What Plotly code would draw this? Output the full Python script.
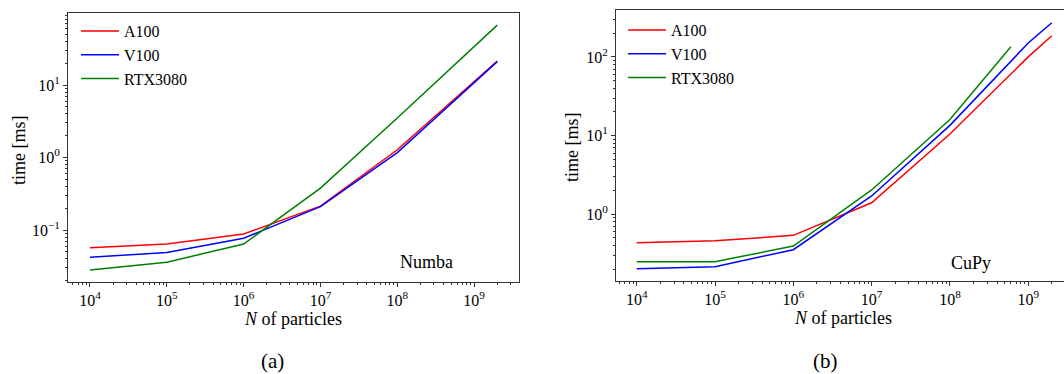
import plotly.graph_objects as go

# ---- data: Numba (a) ----
n_numba = [1e4, 1e5, 1e6, 1e7, 1e8, 2e9]
numba_a100 = [0.057, 0.064, 0.088, 0.213, 1.28, 21.4]
numba_v100 = [0.042, 0.049, 0.077, 0.210, 1.17, 21.0]
numba_rtx = [0.028, 0.036, 0.064, 0.378, 3.5, 67.0]

# ---- data: CuPy (b) ----
n_cupy = [1e4, 1e5, 1e6, 1e7, 1e8, 1e9, 2e9]
cupy_a100 = [0.435, 0.46, 0.54, 1.40, 10.5, 100.0, 186.0]
cupy_v100 = [0.204, 0.216, 0.355, 1.71, 13.5, 150.0, 272.0]
n_cupy_rtx = [1e4, 1e5, 1e6, 1e7, 1e8, 6e8]
cupy_rtx = [0.25, 0.25, 0.395, 2.04, 16.0, 135.0]

x_tickvals = [1e4, 1e5, 1e6, 1e7, 1e8, 1e9]
x_ticktext = ["10<sup>4</sup>", "10<sup>5</sup>", "10<sup>6</sup>",
              "10<sup>7</sup>", "10<sup>8</sup>", "10<sup>9</sup>"]
ya_tickvals = [0.1, 1, 10]
ya_ticktext = ["10<sup>\u22121</sup>", "10<sup>0</sup>", "10<sup>1</sup>"]
yb_tickvals = [1, 10, 100]
yb_ticktext = ["10<sup>0</sup>", "10<sup>1</sup>", "10<sup>2</sup>"]

RED, BLUE, GREEN = "#ff0000", "#0000ff", "#008000"
FONT = "Liberation Serif, Times New Roman, serif"
W, H = 1064, 374

fig = go.Figure()

def add(x, y, name, color, xa, ya, legend, show):
    fig.add_trace(go.Scatter(x=x, y=y, name=name, mode="lines",
                             line=dict(color=color, width=1.5),
                             xaxis=xa, yaxis=ya, legend=legend, showlegend=show))

add(n_numba, numba_a100, "A100", RED, "x", "y", "legend", True)
add(n_numba, numba_v100, "V100", BLUE, "x", "y", "legend", True)
add(n_numba, numba_rtx, "RTX3080", GREEN, "x", "y", "legend", True)
add(n_cupy, cupy_a100, "A100", RED, "x2", "y2", "legend2", True)
add(n_cupy, cupy_v100, "V100", BLUE, "x2", "y2", "legend2", True)
add(n_cupy_rtx, cupy_rtx, "RTX3080", GREEN, "x2", "y2", "legend2", True)

AX = "#333333"
minor = dict(ticks="outside", ticklen=2, tickcolor=AX, dtick="D1", showgrid=False)

def xaxis(domain, rng, anchor):
    return dict(type="log", domain=domain, range=rng, anchor=anchor,
                tickmode="array", tickvals=x_tickvals, ticktext=x_ticktext,
                ticks="outside", ticklen=4, tickcolor=AX, showline=True,
                linecolor=AX, linewidth=1, mirror=True, showgrid=False,
                zeroline=False, minor=minor,
                tickfont=dict(family=FONT, size=16, color="black"))

def yaxis(domain, rng, anchor, vals, text, mirror):
    return dict(type="log", domain=domain, range=rng, anchor=anchor,
                tickmode="array", tickvals=vals, ticktext=text,
                ticks="outside", ticklen=4, tickcolor=AX, showline=True,
                linecolor=AX, linewidth=1, mirror=mirror, showgrid=False,
                zeroline=False, minor=minor,
                tickfont=dict(family=FONT, size=16, color="black"))

LEG = dict(xanchor="left", yanchor="top", bgcolor="rgba(0,0,0,0)",
           font=dict(family=FONT, size=16), tracegroupgap=0, itemwidth=38)

fig.update_layout(
    width=W, height=H,
    margin=dict(l=0, r=0, t=0, b=0),
    plot_bgcolor="white", paper_bgcolor="white",
    font=dict(family=FONT, size=16, color="black"),
    xaxis=xaxis([68 / W, 519 / W], [3.714, 9.584], "y"),
    yaxis=yaxis([(H - 282) / H, (H - 13) / H], [-1.717, 1.993], "x",
                ya_tickvals, ya_ticktext, True),
    xaxis2=xaxis([616 / W, 1.0], [3.735, 9.457], "y2"),
    yaxis2=yaxis([(H - 281) / H, (H - 10) / H], [-0.8475, 2.596], "x2",
                 yb_tickvals, yb_ticktext, False),
    legend=dict(x=76 / W, y=(H - 14) / H, **LEG),
    legend2=dict(x=623 / W, y=(H - 13) / H, **LEG),
)

ann = [
    dict(text="Numba", x=426 / W, y=(H - 262) / H, size=18),
    dict(text="CuPy", x=971 / W, y=(H - 263) / H, size=18),
    dict(text="<i>N</i> of particles", x=293 / W, y=(H - 319) / H, size=18),
    dict(text="<i>N</i> of particles", x=843 / W, y=(H - 318) / H, size=18),
    dict(text="(a)", x=272 / W, y=(H - 361) / H, size=21),
    dict(text="(b)", x=825 / W, y=(H - 361) / H, size=21),
]
for a in ann:
    fig.add_annotation(text=a["text"], x=a["x"], y=a["y"], xref="paper", yref="paper",
                       xanchor="center", yanchor="middle", showarrow=False,
                       font=dict(family=FONT, size=a["size"], color="black"))
for xc, yc in [(19, 150), (572, 147)]:
    fig.add_annotation(text="time [ms]", x=xc / W, y=(H - yc) / H, xref="paper",
                       yref="paper", xanchor="center", yanchor="middle",
                       showarrow=False, textangle=-90,
                       font=dict(family=FONT, size=18, color="black"))

fig.write_html("out.html")
